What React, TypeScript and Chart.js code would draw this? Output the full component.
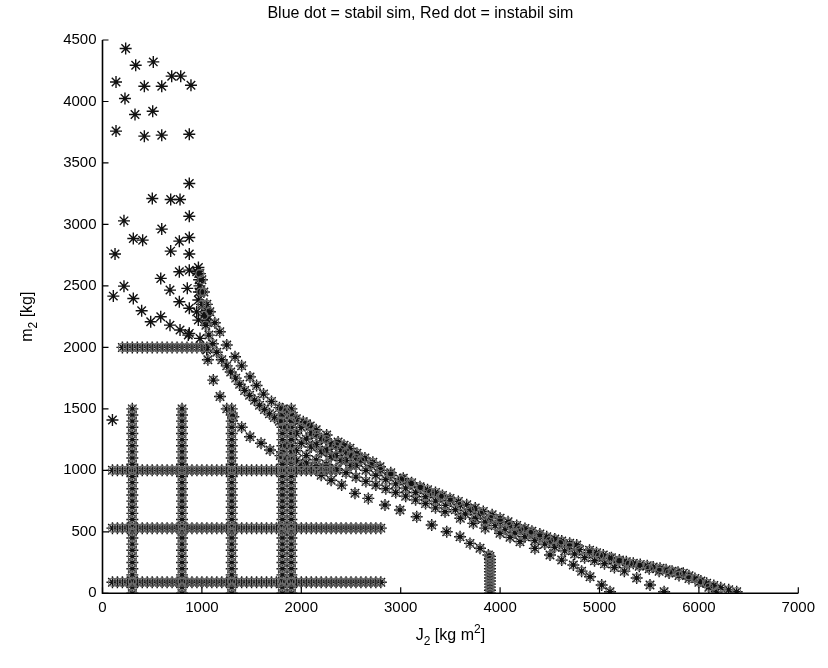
import React, { useEffect, useRef } from 'react';
import { Chart, registerables } from 'chart.js';

Chart.register(...registerables);

const TITLE = 'Blue dot = stabil sim, Red dot = instabil sim';
const X_TICKS = [0, 1000, 2000, 3000, 4000, 5000, 6000, 7000];
const Y_TICKS = [0, 500, 1000, 1500, 2000, 2500, 3000, 3500, 4000, 4500];
const FONT = '"Liberation Sans", Arial, Helvetica, sans-serif';

type Pt = [number, number];

// scattered simulations in the upper-left corner
const loosePoints: Pt[] = [
  [233, 4431], [334, 4295], [511, 4322], [136, 4159], [421, 4124], [596, 4124], [696, 4206], [787, 4206],
  [890, 4132], [226, 4024], [327, 3894], [505, 3921], [136, 3759], [421, 3718], [596, 3726], [873, 3734],
  [873, 3333], [501, 3211], [686, 3203], [780, 3203], [873, 3067], [216, 3029], [596, 2962], [310, 2886],
  [404, 2872], [773, 2864], [873, 2894], [126, 2759], [686, 2783], [873, 2759], [773, 2615], [873, 2628],
  [948, 2615], [586, 2561], [216, 2498], [109, 2417], [310, 2398], [679, 2466], [853, 2480], [394, 2298],
  [485, 2208], [586, 2249], [679, 2181], [773, 2371], [780, 2141], [873, 2318], [873, 2114], [948, 2289],
  [981, 2073], [1048, 1978], [863, 2100], [964, 2222], [964, 2385], [965, 2650], [968, 2600], [972, 2550],
  [975, 2500], [970, 2450], [1048, 2300], [1050, 2260], [1052, 2222], [100, 1410],
];

// simulation grid
const gridColumnsJ = [300, 800, 1300, 1810, 1900];
const gridColumnM = [0, 50, 100, 150, 200, 250, 300, 350, 400, 450, 500, 550, 600, 650, 700, 750, 800, 850,
  900, 950, 1000, 1050, 1100, 1150, 1200, 1250, 1300, 1350, 1400, 1450, 1500];
const gridRowsM = [90, 530, 1000, 2000];
const gridRowsFromJ = [100, 100, 100, 200];
const gridRowsToJ = [2800, 2800, 2350, 1050];
const gridRowJ = [100, 150, 200, 250, 300, 350, 400, 450, 500, 550, 600, 650, 700, 750, 800, 850, 900, 950,
  1000, 1050, 1100, 1150, 1200, 1250, 1300, 1350, 1400, 1450, 1500, 1550, 1600, 1650, 1700, 1750, 1800, 1850,
  1900, 1950, 2000, 2050, 2100, 2150, 2200, 2250, 2300, 2350, 2400, 2450, 2500, 2550, 2600, 2650, 2700, 2750, 2800];

// stability boundary band
const bandTop: Pt[] = [
  [980, 2600], [1000, 2550], [1020, 2450], [1050, 2350], [1080, 2290], [1130, 2200], [1180, 2127], [1250, 2020],
  [1333, 1924], [1400, 1850], [1484, 1760], [1550, 1690], [1620, 1620], [1700, 1560], [1780, 1510], [1850, 1480],
  [1920, 1440], [2020, 1395], [2090, 1360], [2150, 1330], [2255, 1287], [2370, 1230], [2430, 1205], [2490, 1179],
  [2560, 1140], [2640, 1100], [2720, 1065], [2792, 1029], [2900, 980], [3026, 935], [3110, 900], [3194, 867],
  [3270, 843], [3350, 820], [3420, 796], [3496, 772], [3580, 746], [3664, 720], [3750, 693], [3831, 665],
  [3920, 638], [4000, 610], [4080, 582], [4167, 552], [4250, 528], [4320, 505], [4400, 482], [4469, 460],
  [4550, 442], [4620, 425], [4700, 408], [4771, 393], [4900, 350], [4970, 330], [5038, 311], [5120, 290],
  [5200, 270], [5270, 256], [5340, 244], [5410, 234], [5480, 225], [5540, 214], [5609, 203], [5670, 191],
  [5730, 180], [5790, 172], [5843, 163], [5900, 142], [5960, 120], [6020, 100], [6078, 81], [6150, 63],
  [6220, 45], [6300, 28], [6380, 13],
];
const bandUpper: Pt[] = [
  [1900, 1400], [2000, 1350], [2100, 1305], [2200, 1260], [2300, 1215], [2400, 1170], [2500, 1125], [2600, 1080],
  [2700, 1040], [2800, 1000], [2900, 960], [3000, 925], [3100, 890], [3200, 855], [3300, 820], [3400, 785],
  [3500, 750], [3600, 715], [3700, 680], [3800, 645], [3900, 610], [4000, 580], [4100, 550], [4200, 520],
  [4300, 490], [4400, 460], [4500, 430], [4600, 405], [4700, 380], [4800, 355], [4900, 330], [5000, 305],
  [5100, 285], [5200, 260], [5300, 240], [5400, 220], [5500, 200], [5600, 180], [5700, 165], [5800, 145],
  [5900, 120], [6000, 90], [6100, 50], [6180, 13],
];
const steepMid: Pt[] = [
  [990, 2450], [1000, 2350], [1020, 2260], [1040, 2180], [1070, 2100], [1110, 2030], [1150, 1960], [1200, 1900],
  [1250, 1850], [1290, 1800], [1340, 1750], [1380, 1700], [1430, 1650], [1480, 1610], [1530, 1570], [1580, 1530],
  [1630, 1495], [1680, 1460], [1730, 1430], [1780, 1400],
];
const bandMid: Pt[] = [
  [1850, 1350], [1950, 1300], [2050, 1255], [2150, 1210], [2250, 1165], [2350, 1120], [2450, 1080], [2550, 1040],
  [2650, 1000], [2750, 960], [2850, 925], [2950, 890], [3050, 855], [3150, 820], [3250, 785], [3350, 750],
  [3450, 715], [3550, 680], [3650, 645], [3750, 610], [3850, 580], [3950, 550], [4050, 520], [4150, 490],
  [4250, 460], [4350, 430], [4450, 400], [4550, 375], [4650, 345], [4750, 320], [4850, 290], [4950, 265],
  [5050, 240], [5150, 210], [5250, 180], [5374, 125], [5508, 67], [5650, 13],
];
const bandLow: Pt[] = [
  [1850, 1200], [1950, 1160], [2050, 1120], [2150, 1085], [2250, 1050], [2350, 1015], [2450, 980], [2550, 945],
  [2650, 910], [2750, 880], [2850, 850], [2950, 820], [3050, 790], [3150, 760], [3250, 730], [3350, 695],
  [3446, 663], [3600, 610], [3730, 569], [3850, 530], [3999, 488], [4100, 455], [4200, 420], [4350, 365],
  [4502, 311], [4620, 270], [4737, 230], [4820, 180], [4905, 135], [5022, 67], [5106, 13],
];
const bandFill: Pt[] = [
  [1850, 1100], [1950, 1080], [2050, 1060], [2150, 1040], [2250, 1020], [2350, 1000],
  [1900, 1250], [2000, 1220], [2100, 1190], [2200, 1150], [2300, 1110], [2400, 1080], [2500, 1040],
  [1950, 1420], [2050, 1380], [2150, 1290], [2250, 1250], [2350, 1200], [2450, 1150], [2550, 1100],
];
const lowerArc: Pt[] = [
  [1060, 1900], [1115, 1734], [1182, 1600], [1250, 1500], [1316, 1436], [1400, 1350], [1484, 1273], [1595, 1220],
  [1685, 1165], [1790, 1120], [1900, 1080], [2000, 1040], [2100, 1000], [2200, 960], [2300, 920], [2406, 880],
  [2540, 813], [2674, 772], [2842, 718], [2993, 677], [3161, 623], [3312, 555], [3463, 501], [3597, 460],
  [3697, 406], [3798, 366], [3882, 311],
];
const dropAt3900: Pt[] = [
  [3898, 300], [3898, 275], [3898, 250], [3898, 225], [3898, 200], [3898, 175], [3898, 150], [3898, 125],
  [3898, 100], [3898, 75], [3898, 50], [3898, 25], [3898, 0],
];

const toXY = (pts: Pt[]) => pts.map(([x, y]) => ({ x, y }));

function drawRich(ctx: CanvasRenderingContext2D, parts: { t: string; s?: number }[], cx: number, cy: number, size: number) {
  const small = Math.round(size * 0.72);
  let total = 0;
  for (const p of parts) {
    ctx.font = `${p.s ? small : size}px ${FONT}`;
    total += ctx.measureText(p.t).width;
  }
  let x = cx - total / 2;
  ctx.textAlign = 'left';
  ctx.textBaseline = 'alphabetic';
  for (const p of parts) {
    ctx.font = `${p.s ? small : size}px ${FONT}`;
    const dy = p.s === 1 ? size * 0.3 : p.s === -1 ? -size * 0.42 : 0;
    ctx.fillText(p.t, x, cy + dy);
    x += ctx.measureText(p.t).width;
  }
}

const framePlugin = {
  id: 'matlabFrame',
  afterDraw(chart: any) {
    const { ctx, chartArea } = chart;
    const { left, right, top, bottom } = chartArea;
    const xs = chart.scales.x;
    const ys = chart.scales.y;
    ctx.save();
    ctx.strokeStyle = '#000';
    ctx.lineWidth = 1.6;
    ctx.beginPath();
    ctx.moveTo(left, top);
    ctx.lineTo(left, bottom);
    ctx.lineTo(right, bottom);
    ctx.stroke();
    ctx.lineWidth = 1.2;
    ctx.beginPath();
    for (const v of X_TICKS) {
      const px = xs.getPixelForValue(v);
      ctx.moveTo(px, bottom);
      ctx.lineTo(px, bottom - 6);
    }
    for (const v of Y_TICKS) {
      const py = ys.getPixelForValue(v);
      ctx.moveTo(left, py);
      ctx.lineTo(left + 6, py);
    }
    ctx.stroke();

    ctx.fillStyle = '#000';
    ctx.font = `16px ${FONT}`;
    ctx.textAlign = 'center';
    ctx.textBaseline = 'middle';
    ctx.fillText(TITLE, (left + right) / 2 - 30, 14);

    drawRich(ctx, [{ t: 'J' }, { t: '2', s: 1 }, { t: ' [kg m' }, { t: '2', s: -1 }, { t: ']' }], (left + right) / 2, 640, 16);

    ctx.translate(32, (top + bottom) / 2);
    ctx.rotate(-Math.PI / 2);
    drawRich(ctx, [{ t: 'm' }, { t: '2', s: 1 }, { t: ' [kg]' }], 0, 0, 16);
    ctx.restore();
  },
};

export default function App() {
  const ref = useRef<HTMLCanvasElement | null>(null);

  useEffect(() => {
    if (!ref.current) return;
    const gridPts = [
      ...gridColumnsJ.flatMap((j) => gridColumnM.map((m) => ({ x: j, y: m }))),
      ...gridRowsM.flatMap((m, i) =>
        gridRowJ.filter((j) => j >= gridRowsFromJ[i] && j <= gridRowsToJ[i]).map((j) => ({ x: j, y: m }))
      ),
    ];
    const bandPts = [
      ...toXY(bandTop), ...toXY(bandUpper), ...toXY(steepMid), ...toXY(bandMid),
      ...toXY(bandLow), ...toXY(bandFill), ...toXY(lowerArc), ...toXY(dropAt3900),
    ];
    const dense = [...gridPts, ...bandPts];
    const chart = new Chart(ref.current, {
      type: 'scatter',
      data: {
        datasets: [
          {
            data: dense,
            pointStyle: 'circle',
            pointRadius: 4,
            borderColor: '#6e6e6e',
            backgroundColor: 'rgba(0,0,0,0)',
            borderWidth: 1.2,
          },
          {
            data: [...toXY(loosePoints), ...dense],
            pointStyle: 'star',
            pointRadius: 6,
            borderColor: '#111',
            backgroundColor: '#111',
            borderWidth: 1.4,
          },
        ],
      },
      options: {
        animation: false,
        responsive: false,
        events: [],
        layout: { padding: { top: 40, right: 29.7, left: 0, bottom: 0 } },
        plugins: { legend: { display: false }, title: { display: false }, tooltip: { enabled: false } },
        scales: {
          x: {
            type: 'linear',
            min: 0,
            max: 7000,
            afterBuildTicks: (s: any) => { s.ticks = X_TICKS.map((v) => ({ value: v })); },
            afterFit: (s: any) => { s.height = 74.7; },
            grid: { display: false, drawTicks: false },
            border: { display: false },
            ticks: {
              color: '#000', font: { size: 15, family: FONT }, padding: 6, maxRotation: 0, autoSkip: false,
              callback: (v: any) => String(v),
            },
          },
          y: {
            type: 'linear',
            min: 0,
            max: 4500,
            afterBuildTicks: (s: any) => { s.ticks = Y_TICKS.map((v) => ({ value: v })); },
            afterFit: (s: any) => { s.width = 102.5; },
            grid: { display: false, drawTicks: false },
            border: { display: false },
            ticks: {
              color: '#000', font: { size: 15, family: FONT }, padding: 6, autoSkip: false,
              callback: (v: any) => String(v),
            },
          },
        },
      },
      plugins: [framePlugin],
    });
    return () => chart.destroy();
  }, []);

  return (
    <div style={{ position: 'fixed', left: 0, top: 0, width: 828, height: 668, background: '#fff' }}>
      <canvas ref={ref} width={828} height={668} style={{ display: 'block', width: 828, height: 668 }} />
    </div>
  );
}
